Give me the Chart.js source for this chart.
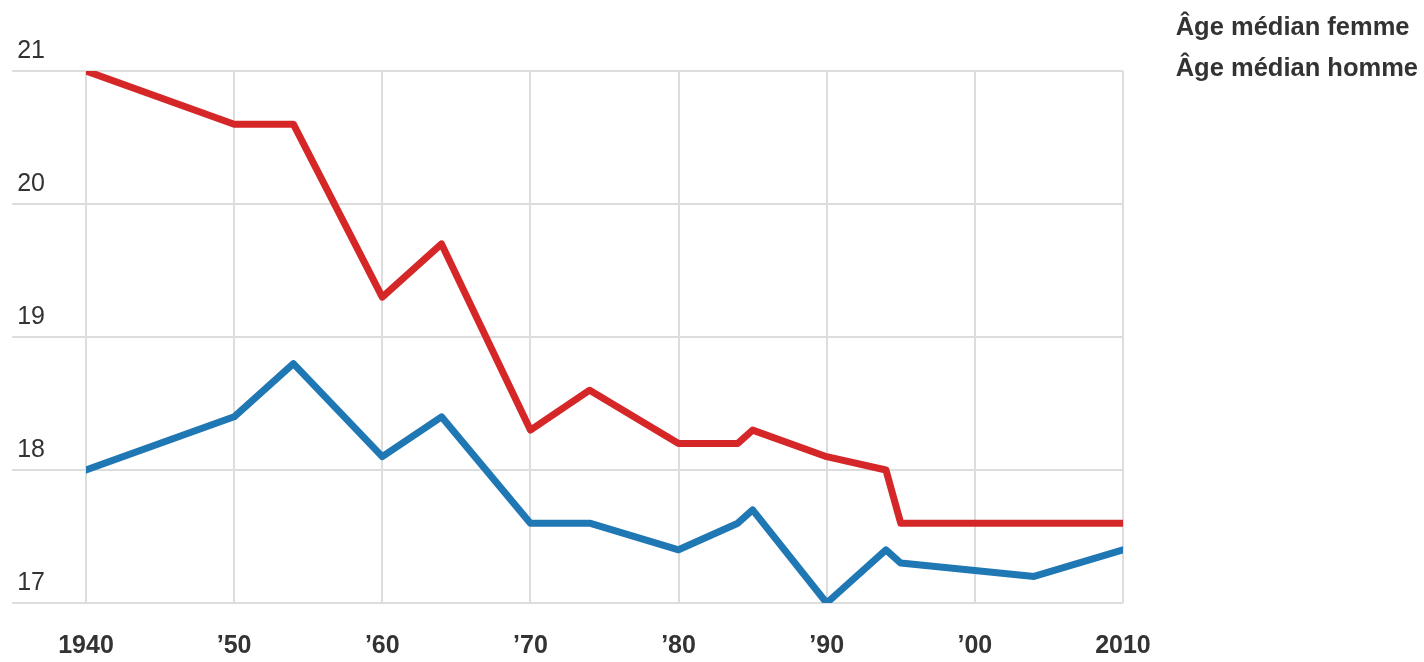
<!DOCTYPE html>
<html lang="fr">
<head>
<meta charset="utf-8">
<title>Âge médian</title>
<script src="https://cdn.jsdelivr.net/npm/chart.js@4/dist/chart.umd.min.js"></script>
<style>
  body { margin: 0; background: #fff; overflow: hidden; }
  #wrap { width: 1424px; height: 662px; }
  canvas { display: block; }
</style>
</head>
<body>
<div id="wrap"><canvas id="myChart" width="1424" height="662"></canvas></div>
<script>
// values
const femmeYears = [1940, 1950, 1954, 1960, 1964, 1970, 1974, 1980, 1984, 1985, 1990, 1994, 1995, 2010];
const femmeAges = [21.0, 20.6, 20.6, 19.3, 19.7, 18.3, 18.6, 18.2, 18.2, 18.3, 18.1, 18.0, 17.6, 17.6];
const hommeYears = [1940, 1950, 1954, 1960, 1964, 1970, 1974, 1980, 1984, 1985, 1990, 1994, 1995, 2004, 2010];
const hommeAges = [18.0, 18.4, 18.8, 18.1, 18.4, 17.6, 17.6, 17.4, 17.6, 17.7, 17.0, 17.4, 17.3, 17.2, 17.4];

const decades = [1940, 1950, 1960, 1970, 1980, 1990, 2000, 2010];
const decadeLabels = ["1940", "’50", "’60", "’70", "’80", "’90", "’00", "2010"];

const FONT = 'Arial, "Liberation Sans", Helvetica, sans-serif';
const TEXT = "#333333";
const GRID = "#dddddd";

const toPoints = (years, ages) => years.map((x, i) => ({ x: x, y: ages[i] }));

const ctx = document.getElementById("myChart").getContext("2d");

const myChart = new Chart(ctx, {
  type: "line",
  data: {
    datasets: [
      {
        label: "Âge médian femme",
        data: toPoints(femmeYears, femmeAges),
        borderColor: "#d62728",
        backgroundColor: "#d62728",
        borderWidth: 7,
        borderJoinStyle: "round",
        borderCapStyle: "round",
        pointRadius: 0,
        tension: 0,
      },
      {
        label: "Âge médian homme",
        data: toPoints(hommeYears, hommeAges),
        borderColor: "#1f77b4",
        backgroundColor: "#1f77b4",
        borderWidth: 7,
        borderJoinStyle: "round",
        borderCapStyle: "round",
        pointRadius: 0,
        tension: 0,
      },
    ],
  },
  options: {
    responsive: false,
    animation: false,
    devicePixelRatio: 1,
    layout: {
      padding: { top: -1, right: -4, bottom: 1, left: 12 },
    },
    plugins: {
      tooltip: { enabled: false },
      legend: {
        position: "right",
        align: "start",
        labels: {
          boxWidth: 24,
          padding: 16,
          color: TEXT,
          font: { family: FONT, size: 25.5, weight: "bold" },
          // text only, no coloured box
          generateLabels: (chart) =>
            Chart.defaults.plugins.legend.labels
              .generateLabels(chart)
              .map((item) => ({
                ...item,
                fillStyle: "rgba(0,0,0,0)",
                strokeStyle: "rgba(0,0,0,0)",
                lineWidth: 0,
              })),
        },
      },
    },
    scales: {
      x: {
        type: "linear",
        min: 1940,
        max: 2010,
        border: { display: false },
        grid: { color: GRID, lineWidth: 2, drawTicks: false },
        ticks: {
          stepSize: 10,
          padding: 28,
          color: TEXT,
          font: { family: FONT, size: 25, weight: "bold" },
          maxRotation: 0,
          callback: (value) => {
            const i = decades.indexOf(value);
            return i >= 0 ? decadeLabels[i] : "";
          },
        },
        afterFit: (scale) => {
          scale.height = 58;
        },
      },
      y: {
        min: 17,
        max: 21,
        border: { display: false },
        grid: { color: GRID, lineWidth: 2, tickLength: 74 },
        ticks: {
          stepSize: 1,
          padding: -33,
          labelOffset: -20,
          color: TEXT,
          font: { family: FONT, size: 25 },
        },
        afterFit: (scale) => {
          scale.width = 74;
          scale.paddingTop = 71;
        },
      },
    },
  },
});
</script>
</body>
</html>
